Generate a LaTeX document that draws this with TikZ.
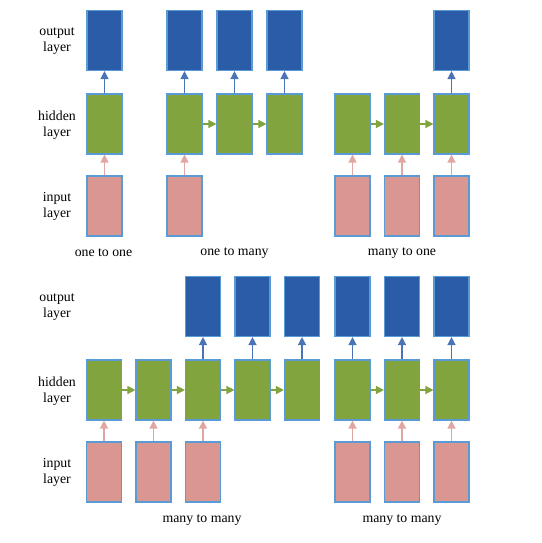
\documentclass[tikz,border=0pt]{standalone}
\usepackage{fontspec}
\setmainfont{Liberation Serif}
\usetikzlibrary{arrows.meta}
\definecolor{rnnout}{HTML}{2A5CA8}
\definecolor{rnnhid}{HTML}{82A43F}
\definecolor{rnninp}{HTML}{DA9691}
\definecolor{rnnedge}{HTML}{5B9BD5}
\tikzset{
  rblk/.style={draw=rnnedge,line width=1.1pt,minimum width=35pt,minimum height=60pt,inner sep=0pt},
  outblk/.style={rblk,fill=rnnout},
  hidblk/.style={rblk,fill=rnnhid},
  inblk/.style={rblk,fill=rnninp},
  outarr/.style={-{Triangle[length=8pt,width=8pt]},line width=1.3pt,draw=rnnout!85!white,fill=rnnout},
  inarr/.style={-{Triangle[length=8pt,width=8pt]},line width=1.3pt,draw=rnninp!85!white,fill=rnninp!85!white},
  recarr/.style={-{Triangle[length=8pt,width=8pt]},line width=1.3pt,draw=rnnhid},
  rlab/.style={font=\fontsize{13.8}{16}\selectfont,align=center,inner sep=0pt},
}
\begin{document}
\begin{tikzpicture}[x=1pt,y=-1pt]
\useasboundingbox (0,0) rectangle (541,543);
% ---- row labels, top and bottom
\foreach \Y/\N in {0/t,266/b}{
  \node[rlab] (lo\N) at (57,41+\Y) {output\\layer};
  \node[rlab] (lh\N) at (57,125+\Y) {hidden\\layer};
  \node[rlab] (li\N) at (57,206+\Y) {input\\layer};}
% ---- one to one
\node[inblk] (iA1) at (104.5,206) {};
\node[hidblk] (hA1) at (104.5,124) {};
\node[outblk] (oA1) at (104.5,40.5) {};
\draw[inarr] (iA1) -- (hA1);
\draw[outarr] (hA1) -- (oA1);
\node[rlab] (capA) at (103.5,253) {one to one};
% ---- one to many
\foreach \k/\X in {1/184.5,2/234.5,3/284.5}{
  \node[hidblk] (hB\k) at (\X,124) {};
  \node[outblk] (oB\k) at (\X,40.5) {};
  \draw[outarr] (hB\k) -- (oB\k);}
\node[inblk] (iB1) at (184.5,206) {};
\draw[inarr] (iB1) -- (hB1);
\draw[recarr] (hB1) -- (hB2);
\draw[recarr] (hB2) -- (hB3);
\node[rlab] (capB) at (234.5,253) {one to many};
% ---- many to one
\foreach \k/\X in {1/352.5,2/402,3/451.5}{
  \node[hidblk] (hC\k) at (\X,124) {};
  \node[inblk] (iC\k) at (\X,206) {};
  \draw[inarr] (iC\k) -- (hC\k);}
\node[outblk] (oC3) at (451.5,40.5) {};
\draw[outarr] (hC3) -- (oC3);
\draw[recarr] (hC1) -- (hC2);
\draw[recarr] (hC2) -- (hC3);
\node[rlab] (capC) at (402,253) {many to one};
% ---- many to many, delayed
\foreach \k/\X in {1/104,2/153.5,3/203,4/252.5,5/302}{
  \node[hidblk] (hD\k) at (\X,390) {};}
\foreach \k/\X in {1/104,2/153.5,3/203}{
  \node[inblk] (iD\k) at (\X,472) {};
  \draw[inarr] (iD\k) -- (hD\k);}
\foreach \k/\X in {3/203,4/252.5,5/302}{
  \node[outblk] (oD\k) at (\X,306.5) {};
  \draw[outarr] (hD\k) -- (oD\k);}
\foreach \a/\b in {1/2,2/3,3/4,4/5}{
  \draw[recarr] (hD\a) -- (hD\b);}
\node[rlab] (capD) at (202,520) {many to many};
% ---- many to many, synced
\foreach \k/\X in {1/352.5,2/402,3/451.5}{
  \node[hidblk] (hE\k) at (\X,390) {};
  \node[inblk] (iE\k) at (\X,472) {};
  \node[outblk] (oE\k) at (\X,306.5) {};
  \draw[inarr] (iE\k) -- (hE\k);
  \draw[outarr] (hE\k) -- (oE\k);}
\draw[recarr] (hE1) -- (hE2);
\draw[recarr] (hE2) -- (hE3);
\node[rlab] (capE) at (402,520) {many to many};
\end{tikzpicture}
\end{document}
